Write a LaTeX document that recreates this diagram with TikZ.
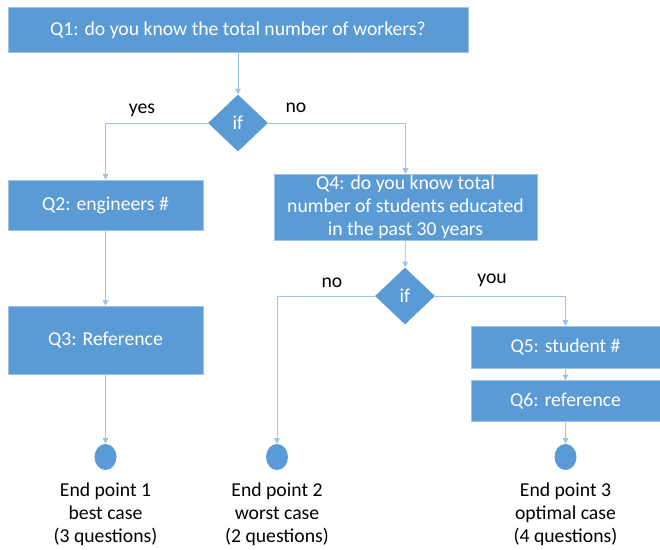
\documentclass[tikz,border=0pt]{standalone}
\usepackage{fontspec}
\setmainfont{Carlito}
\usetikzlibrary{positioning,shapes.geometric,arrows.meta}
\definecolor{boxblue}{HTML}{5B9BD5}
\definecolor{lineblue}{HTML}{9DC3E6}

\begin{document}
\begin{tikzpicture}[x=0.025cm,y=-0.025cm,
  every node/.style={font=\fontsize{14}{16.3}\selectfont},
  qbox/.style={rectangle, fill=boxblue, draw=lineblue, text=white, align=center, inner sep=0pt},
  ifbox/.style={diamond, fill=boxblue, text=white, inner sep=0pt, minimum width=1.5cm, minimum height=1.425cm},
  endpt/.style={ellipse, fill=boxblue, inner sep=0pt, minimum width=0.55cm, minimum height=0.65cm},
  flow/.style={draw=lineblue, line width=0.6pt, -{Triangle[length=4pt,width=4pt]}}]
\useasboundingbox (0,0) rectangle (660,549);

%the questions
\node[qbox, minimum width=11.5cm, minimum height=1.125cm] (q1) at (238,30) {Q1: do you know the total number of workers?};
\node[ifbox] (if1) at (238,123) {if};
\node[qbox, minimum width=4.875cm, minimum height=1.25cm] (q2) at (105.5,205) {Q2: engineers \#};
\node[qbox, minimum width=4.875cm, minimum height=1.7cm] (q3) at (105.5,340) {Q3: Reference};
\node[qbox, minimum width=6.575cm, minimum height=1.65cm] (q4) at (405.5,207) {Q4: do you know total\\number of students educated\\in the past 30 years};
\node[ifbox] (if2) at (405,296) {if};
\node[qbox, minimum width=4.725cm, minimum height=1.05cm] (q5) at (565.5,347) {Q5: student \#};
\node[qbox, minimum width=4.725cm, minimum height=1.025cm, below=0.3cm of q5] (q6) {Q6: reference};

%the end points
\node[endpt] (end1) at (105.5,457) {};
\node[endpt] (end2) at (277,457) {};
\node[endpt] (end3) at (565.5,457) {};
\node[align=center, below=0.2cm of end1] (txt1) {End point 1\\best case\\(3 questions)};
\node[align=center, below=0.2cm of end2] (txt2) {End point 2\\worst case\\(2 questions)};
\node[align=center, below=0.2cm of end3] (txt3) {End point 3\\optimal case\\(4 questions)};

%branch labels
\node (yes1) at (142,110) {yes};
\node (no1) at (296,108) {no};
\node (no2) at (332,283) {no};
\node (you2) at (492,280) {you};

\draw[flow] (q1) -- (if1);
\draw[flow] (if1.west) -| (q2.north);
\draw[flow] (if1.east) -| (q4.north);
\draw[flow] (q2) -- (q3);
\draw[flow] (q3) -- (end1);
\draw[flow] (q4) -- (if2);
\draw[flow] (if2.west) -| (end2.north);
\draw[flow] (if2.east) -| (q5.north);
\draw[flow] (q5) -- (q6);
\draw[flow] (q6) -- (end3);
\end{tikzpicture}
\end{document}
